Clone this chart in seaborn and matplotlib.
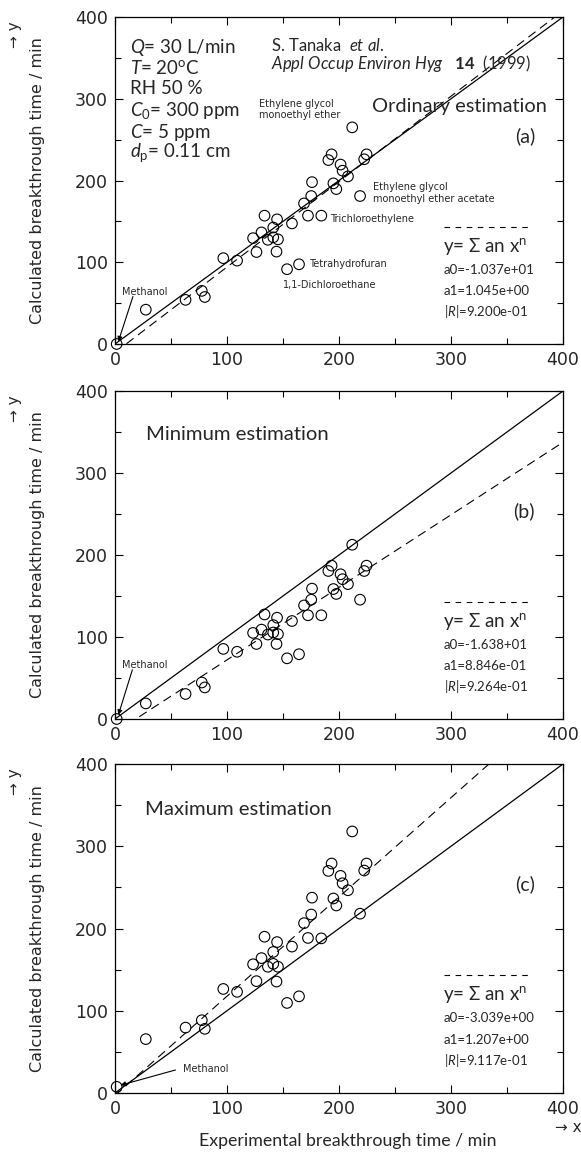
import matplotlib
matplotlib.use("Agg")
import matplotlib.pyplot as plt
import seaborn as sns
import numpy as np
import pandas as pd

# experimental vs calculated breakthrough times (min)
exp_time = [1.5, 27.5, 63, 77.5, 80.2, 96.7, 109, 123.3, 126.3, 130.8, 133.5, 136.5,
            141.3, 141.3, 144.7, 145.5, 144.2, 153.6, 158, 164.3, 168.8, 172.3,
            175.2, 175.9, 184.2, 190.5, 193.4, 195, 197.6, 201.4, 203.2, 208,
            211.8, 218.8, 222.5, 224.6]
calc_ordinary = [0, 42, 54, 65, 57.5, 105, 102, 129.5, 112.5, 136.5, 157, 127.5,
                 142.5, 130.5, 152.5, 128, 113, 91.5, 147.5, 97.5, 172, 157,
                 181, 198, 157, 225, 232, 196.5, 189.5, 219.5, 212, 205,
                 265, 181, 226, 232]
calc_minimum = [0, 19, 30.5, 44.5, 38.5, 85.5, 82, 105, 91.5, 109, 127.5, 103,
                105.5, 114.5, 123.5, 103.5, 91.5, 74, 119.5, 79, 138.5, 126.5,
                145.5, 159, 126.5, 180.5, 187, 158.5, 152.5, 176.5, 170.5, 164.5,
                212.5, 145.5, 180.5, 187]
calc_maximum = [7.5, 65.5, 79.5, 88.5, 78, 126.5, 123, 156.5, 136, 164, 190, 153.5,
                157, 171.5, 183.5, 153.5, 135.5, 109.5, 178, 117.5, 206.5, 188.5,
                217, 237.5, 188, 270, 279, 236.5, 228, 264, 255, 246.5,
                318, 218, 270.5, 279]

panel_data = [calc_ordinary, calc_minimum, calc_maximum]
panel_tags = ["(a)", "(b)", "(c)"]
panel_titles = ["Ordinary estimation", "Minimum estimation", "Maximum estimation"]
fit_a0 = [-1.037e+01, -1.638e+01, -3.039e+00]
fit_a1 = [1.045e+00, 8.846e-01, 1.207e+00]
a0_labels = ["a0=-1.037e+01", "a0=-1.638+01", "a0=-3.039e+00"]
a1_labels = ["a1=1.045e+00", "a1=8.846e-01", "a1=1.207e+00"]
r_labels = ["9.200e-01", "9.264e-01", "9.117e-01"]
ticks = [0, 100, 200, 300, 400]

sns.set_theme(style="ticks")
plt.rcParams["font.family"] = ["DejaVu Sans"]
plt.rcParams["mathtext.fontset"] = "custom"
plt.rcParams["mathtext.rm"] = "Lato"
plt.rcParams["mathtext.it"] = "Lato:italic"
plt.rcParams["mathtext.bf"] = "Lato:bold"

LATO = ["Lato", "DejaVu Sans"]

fig = plt.figure(figsize=(5.81, 11.58), dpi=100)
W, H = 581, 1158
boxes = [(17, 344), (391, 719), (764, 1093)]  # top/bottom in pixels
x0, x1 = 115, 563

axes = []
for i, (top, bot) in enumerate(boxes):
    ax = fig.add_axes([x0 / W, 1 - bot / H, (x1 - x0) / W, (bot - top) / H])
    axes.append(ax)
    calc = panel_data[i]

    xs = np.array([0, 400])
    sns.lineplot(x=xs, y=xs, ax=ax, color="black", lw=0.9)
    ax.plot(xs, fit_a0[i] + fit_a1[i] * xs, color="black", lw=0.8, dashes=(8, 5))
    sns.scatterplot(x=exp_time, y=calc, ax=ax, marker="o", s=58,
                    facecolor="none", edgecolor="black", linewidth=0.8, zorder=3,
                    clip_on=False)

    ax.set_xlim(0, 400)
    ax.set_ylim(0, 400)
    ax.set_xticks(ticks)
    ax.set_yticks(ticks)
    ax.set_xticks(range(50, 400, 100), minor=True)
    ax.set_yticks(range(50, 400, 100), minor=True)
    ax.tick_params(which="both", direction="in", top=True, right=True,
                   color="black", width=0.8, labelsize=12.5, pad=5)
    ax.tick_params(which="major", length=6)
    ax.tick_params(which="minor", length=4)
    for sp in ax.spines.values():
        sp.set_color("black")
        sp.set_linewidth(0.9)
    ax.set_ylabel("Calculated breakthrough time / min", fontsize=11.5)
    ax.yaxis.set_label_coords(-0.156, 0.5)
    fig.text(15 / W, 1 - (top + 18) / H, "\u2192 y", rotation=90, fontsize=11,
             ha="center", va="center")

    # equation box
    ax.plot([0.734, 0.926], [0.358, 0.358], transform=ax.transAxes, color="black",
            lw=0.8, dashes=(5, 5))
    ax.text(0.732, 0.298, "y= \u03a3 an x$^\\mathrm{n}$", transform=ax.transAxes,
            family=LATO, fontsize=13.5, va="center")
    ax.text(0.734, 0.227, a0_labels[i], transform=ax.transAxes, family=LATO,
            fontsize=9.5, va="center")
    ax.text(0.734, 0.162, a1_labels[i], transform=ax.transAxes, family=LATO,
            fontsize=9.5, va="center")
    ax.text(0.734, 0.098, "|$\\mathit{R}$|=" + r_labels[i], transform=ax.transAxes,
            family=LATO, fontsize=9.5, va="center")

    ax.text(0.9375, 0.635, panel_tags[i], transform=ax.transAxes, family=LATO,
            fontsize=14, ha="right", va="center")

ax_a, ax_b, ax_c = axes

# panel (a) annotations
ax_a.text(0.964, 0.726, panel_titles[0], transform=ax_a.transAxes, family=LATO,
          fontsize=14.4, ha="right", va="center")
cond = ["$\\mathit{Q}$= 30 L/min", "$\\mathit{T}$= 20$^\\mathrm{o}$C", "RH 50 %",
        "$\\mathit{C}_\\mathrm{0}$= 300 ppm", "$\\mathit{C}$= 5 ppm",
        "$\\mathit{d}_\\mathrm{p}$= 0.11 cm"]
for s, fy in zip(cond, [0.908, 0.844, 0.780, 0.713, 0.648, 0.584]):
    ax_a.text(0.033, fy, s, transform=ax_a.transAxes, family=LATO, fontsize=13.5,
              va="center")
ax_a.text(0.348, 0.914, "S. Tanaka  $\\mathit{et\\ al.}$", transform=ax_a.transAxes,
          family=LATO, fontsize=12, va="center")
ax_a.text(0.348, 0.859, "$\\mathit{Appl\\ Occup\\ Environ\\ Hyg}$   $\\mathbf{14}$  (1999)",
          transform=ax_a.transAxes, family=LATO, fontsize=12, va="center")

small = dict(fontsize=7, va="center", transform=ax_a.transAxes)
ax_a.text(0.321, 0.718, "Ethylene glycol\nmonoethyl ether", linespacing=1.15, **small)
ax_a.text(0.575, 0.462, "Ethylene glycol\nmonoethyl ether acetate", linespacing=1.15, **small)
ax_a.text(0.48, 0.381, "Trichloroethylene", **small)
ax_a.text(0.433, 0.244, "Tetrahydrofuran", **small)
ax_a.text(0.375, 0.180, "1,1-Dichloroethane", **small)

# Methanol labels
arrow = dict(arrowstyle="-|>", color="black", lw=0.8, mutation_scale=7,
             shrinkA=0, shrinkB=0)
ax_a.text(0.015, 0.159, "Methanol", transform=ax_a.transAxes, fontsize=7, va="center")
ax_a.annotate("", xy=(3, 3), xytext=(16, 58), arrowprops=arrow)
ax_b.text(0.015, 0.165, "Methanol", transform=ax_b.transAxes, fontsize=7, va="center")
ax_b.annotate("", xy=(3, 5), xytext=(15.5, 60), arrowprops=arrow)
ax_c.text(0.152, 0.072, "Methanol", transform=ax_c.transAxes, fontsize=7, va="center")
ax_c.annotate("", xy=(5, 9.5), xytext=(54, 28), arrowprops=arrow)

ax_b.text(0.0685, 0.866, panel_titles[1], transform=ax_b.transAxes, family=LATO,
          fontsize=14.6, va="center")
ax_c.text(0.066, 0.862, panel_titles[2], transform=ax_c.transAxes, family=LATO,
          fontsize=14.6, va="center")

ax_c.set_xlabel("Experimental breakthrough time / min", family=LATO, fontsize=12.8)
ax_c.xaxis.set_label_coords((348 - x0) / (x1 - x0), -(1133 - 1093) / 329)
fig.text(568 / W, 1 - 1128 / H, "\u2192 x", fontsize=11, ha="center", va="center")

fig.savefig("out.png", dpi=100)
